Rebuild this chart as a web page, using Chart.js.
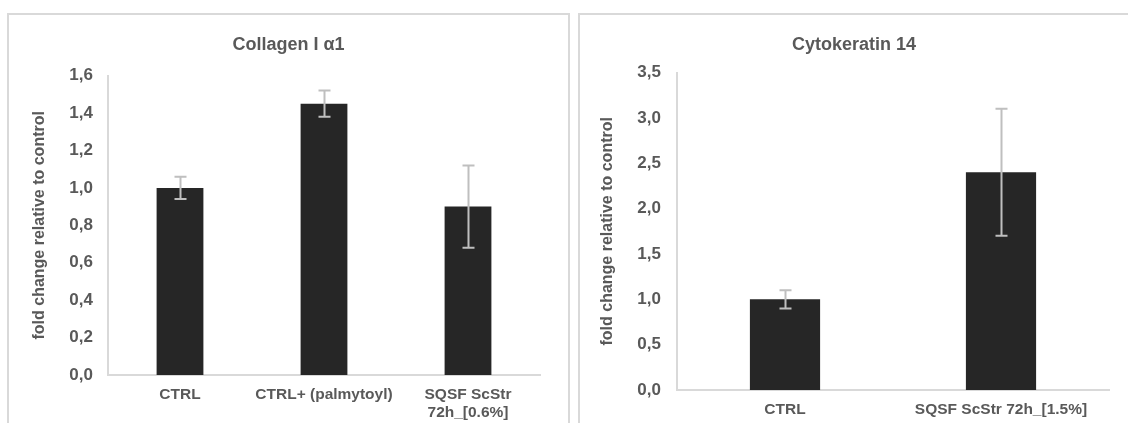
<!DOCTYPE html>
<html>
<head>
<meta charset="utf-8">
<script src="https://cdn.jsdelivr.net/npm/chart.js@4/dist/chart.umd.min.js"></script>
<style>
  body { margin: 0; background: #ffffff; }
  .panel { position: absolute; top: 13px; border-top: 2px solid #d9d9d9; border-left: 2px solid #d9d9d9; height: 410px; }
  #panelLeft { left: 7px; width: 559px; border-right: 2px solid #d9d9d9; }
  #panelRight { left: 578px; width: 548px; }
  canvas { display: block; }
</style>
</head>
<body>
<div class="panel" id="panelLeft"><canvas id="collagenChart" width="559" height="408"></canvas></div>
<div class="panel" id="panelRight"><canvas id="keratinChart" width="548" height="408"></canvas></div>
<script>
// Collagen I α1
var collagenLabels = ["CTRL", "CTRL+ (palmytoyl)", ["SQSF ScStr", "72h_[0.6%]"]];
var collagenValues = [1.0, 1.45, 0.9];
var collagenErrors = [0.06, 0.07, 0.22];

// Cytokeratin 14
var keratinLabels = ["CTRL", "SQSF ScStr 72h_[1.5%]"];
var keratinValues = [1.0, 2.4];
var keratinErrors = [0.1, 0.7];

var textColor = "#595959";
var lineColor = "#d9d9d9";
var fontFamily = "'Liberation Sans', Arial, sans-serif";

// draws symmetric error bars on top of each bar
var errorBarsPlugin = {
  id: "errorBars",
  afterDatasetsDraw: function (chart, args, opts) {
    var ctx = chart.ctx;
    var meta = chart.getDatasetMeta(0);
    var yScale = chart.scales.y;
    var values = chart.data.datasets[0].data;
    ctx.save();
    ctx.strokeStyle = opts.color;
    ctx.lineWidth = opts.width;
    meta.data.forEach(function (bar, i) {
      var err = opts.errors[i];
      var x = Math.round(bar.x) + 0.5;
      var yTop = yScale.getPixelForValue(values[i] + err);
      var yBot = yScale.getPixelForValue(values[i] - err);
      ctx.beginPath();
      ctx.moveTo(x, yTop);
      ctx.lineTo(x, yBot);
      ctx.moveTo(x - opts.cap / 2, yTop);
      ctx.lineTo(x + opts.cap / 2, yTop);
      ctx.moveTo(x - opts.cap / 2, yBot);
      ctx.lineTo(x + opts.cap / 2, yBot);
      ctx.stroke();
    });
    ctx.restore();
  },
};

function makeChart(id, labels, values, errors, cfg) {
  var ctx = document.getElementById(id).getContext("2d");
  return new Chart(ctx, {
    type: "bar",
    data: {
      labels: labels,
      datasets: [
        {
          data: values,
          backgroundColor: "#262626",
          borderWidth: 0,
          categoryPercentage: 1,
          barPercentage: 0.325,
        },
      ],
    },
    plugins: [errorBarsPlugin],
    options: {
      responsive: false,
      animation: false,
      layout: { padding: 0 },
      plugins: {
        legend: { display: false },
        tooltip: { enabled: false },
        title: {
          display: true,
          text: cfg.title,
          color: textColor,
          font: { family: fontFamily, size: 18, weight: "bold", lineHeight: 1.2 },
          padding: { top: 19, bottom: cfg.titleBottom },
        },
        errorBars: { errors: errors, color: "#bfbfbf", width: 2, cap: 12 },
      },
      scales: {
        x: {
          grid: { display: false, drawTicks: false },
          border: { display: true, color: lineColor, width: 2 },
          ticks: {
            color: textColor,
            font: { family: fontFamily, size: 15.5, weight: "bold", lineHeight: 1.15 },
            padding: 11,
            maxRotation: 0,
            autoSkip: false,
          },
          afterFit: function (scale) {
            scale.height = cfg.xHeight;
          },
        },
        y: {
          min: 0,
          max: cfg.max,
          grid: { display: false, drawTicks: false },
          border: { display: true, color: lineColor, width: 2 },
          ticks: {
            stepSize: cfg.step,
            color: textColor,
            font: { family: fontFamily, size: 17, weight: "bold" },
            padding: cfg.tickPad,
            callback: function (v) {
              return v.toFixed(1).replace(".", ",");
            },
          },
          title: {
            display: true,
            text: "fold change relative to control",
            color: textColor,
            font: { family: fontFamily, size: 16, weight: "bold", lineHeight: 1.2 },
            padding: { top: cfg.yTitlePad },
          },
          afterFit: function (scale) {
            scale.width = cfg.yWidth;
          },
        },
        // empty right-hand axis, only reserves space after the plot
        pad: {
          type: "linear",
          position: "right",
          display: true,
          grid: { display: false, drawTicks: false },
          border: { display: false },
          ticks: { display: false },
          afterFit: function (scale) {
            scale.width = cfg.rightGap;
          },
        },
      },
    },
  });
}

document.addEventListener("DOMContentLoaded", function () {
  makeChart("collagenChart", collagenLabels, collagenValues, collagenErrors, {
    title: "Collagen I α1",
    titleBottom: 20,
    max: 1.6,
    step: 0.2,
    yWidth: 99,
    tickPad: 15,
    yTitlePad: 21,
    xHeight: 48,
    rightGap: 28,
  });

  makeChart("keratinChart", keratinLabels, keratinValues, keratinErrors, {
    title: "Cytokeratin 14",
    titleBottom: 17,
    max: 3.5,
    step: 0.5,
    yWidth: 97,
    tickPad: 16,
    yTitlePad: 18,
    xHeight: 33,
    rightGap: 19,
  });
});
</script>
</body>
</html>
